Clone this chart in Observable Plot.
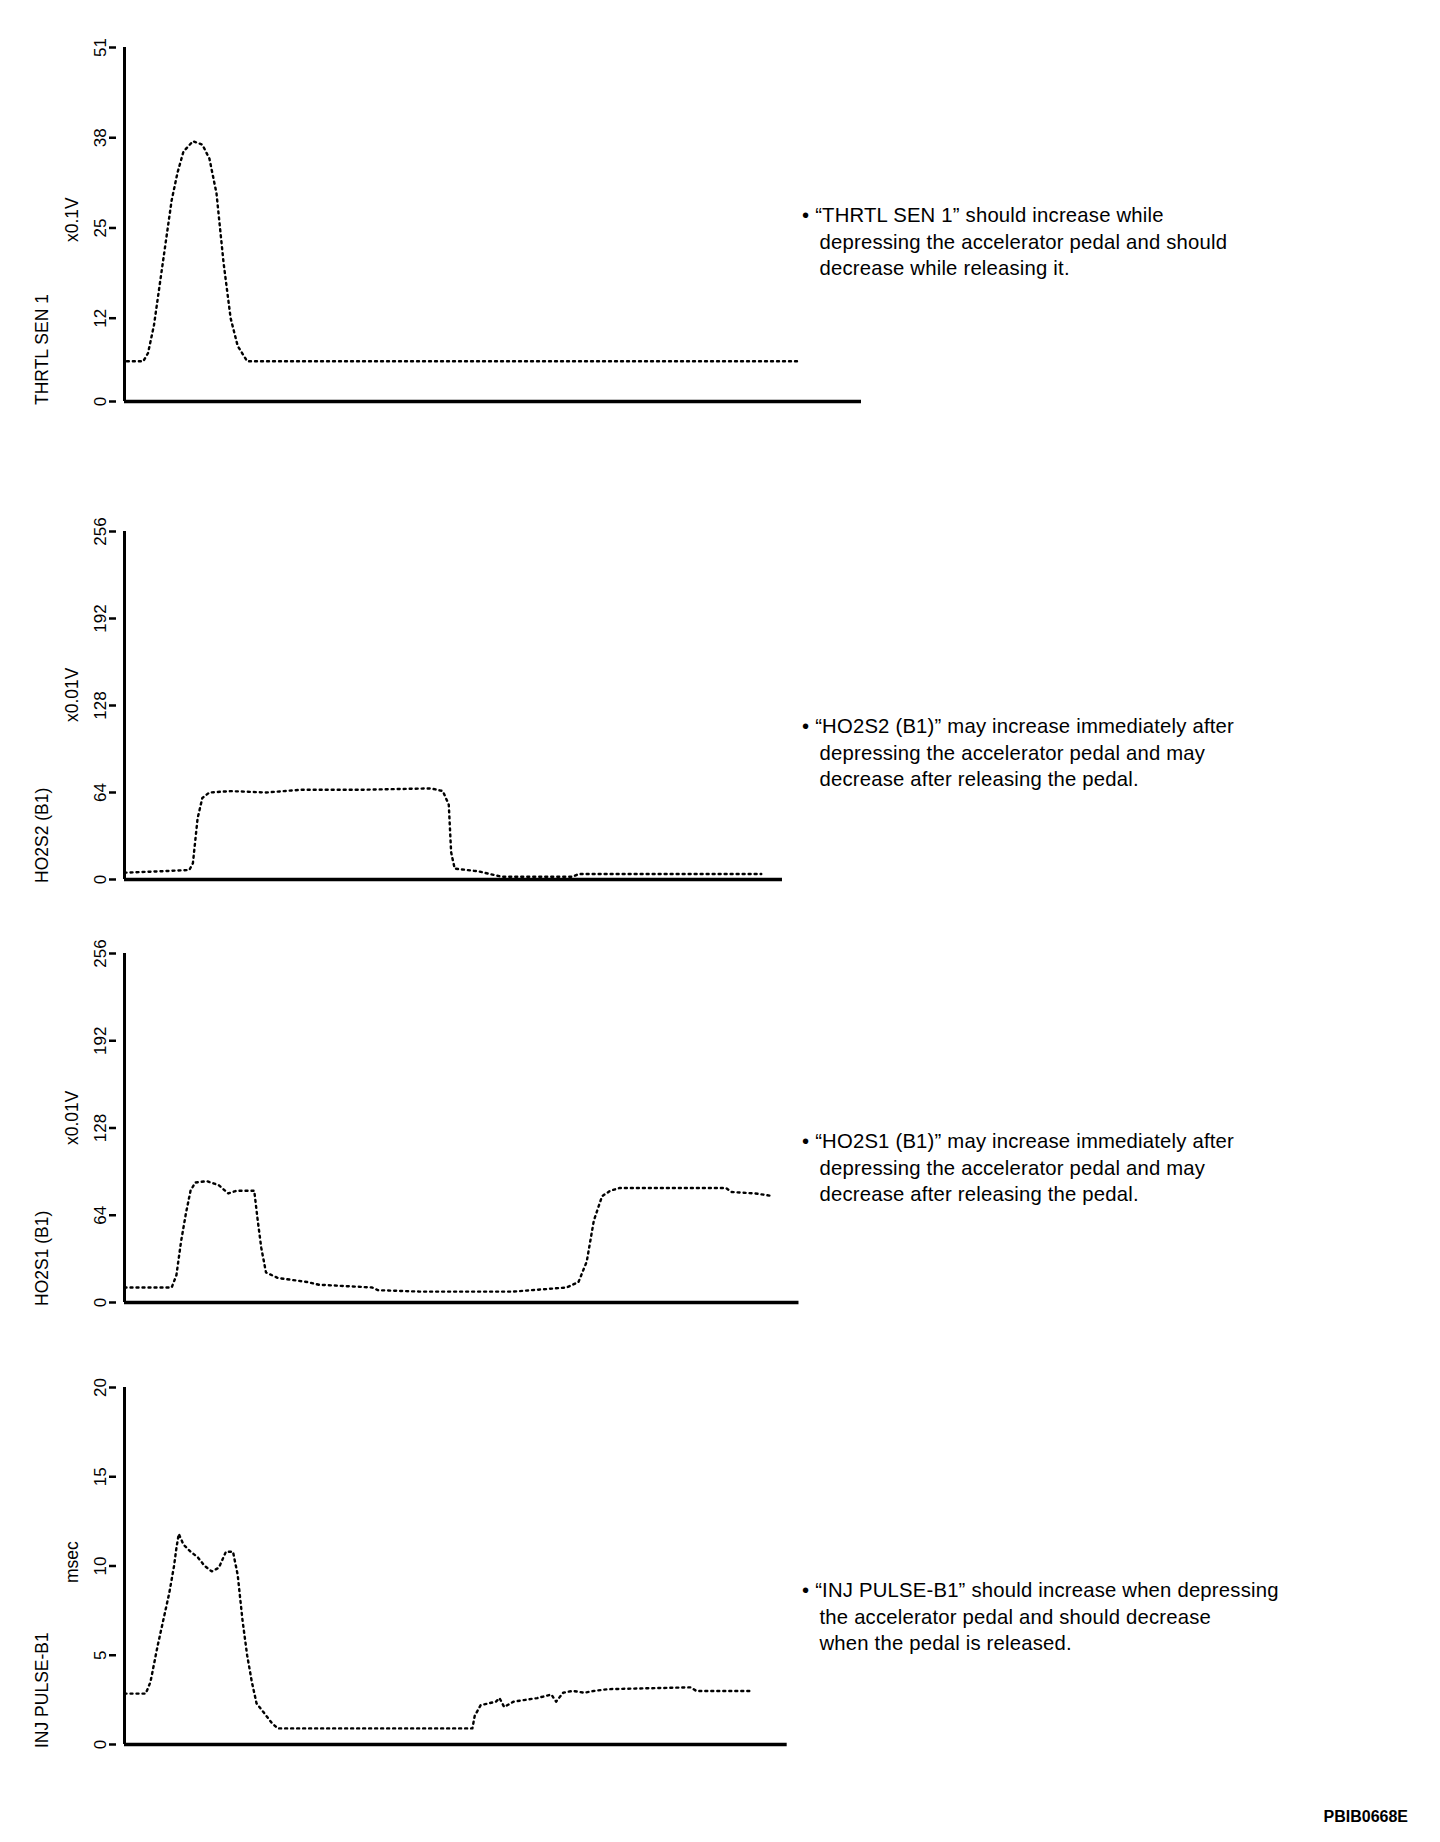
<!DOCTYPE html>
<html><head><meta charset="utf-8">
<script src="https://cdn.jsdelivr.net/npm/d3@7"></script>
<script src="https://cdn.jsdelivr.net/npm/@observablehq/plot@0.6"></script>
<style>
body{margin:0;background:#fff;font-family:"Liberation Sans",Arial,sans-serif;}
#page{position:relative;width:1440px;height:1842px;}
.p{position:absolute;left:0;}
.note{position:absolute;left:802px;font-size:20.3px;line-height:26.5px;color:#000;white-space:pre;letter-spacing:0.2px;}
.lab{position:absolute;font-size:17.5px;transform-origin:0 0;transform:rotate(-90deg);white-space:nowrap;}
</style></head><body><div id="page"></div>
<script>
const thrtlT=[2,16,20,25,30,35,40,45,50,58,66,72,78,84,90,96,104,572];
const thrtlV=[5.8,5.8,7,11,17,23,29,33,36,37.5,37,35,30,20,12,8,5.8,5.8];
const ho2s2T=[0,30,55,58,62,66,72,90,120,150,200,260,270,275,277,280,300,315,320,380,385,540];
const ho2s2V=[5,6,7,12,45,60,64,65,64,66,66,67,65,55,20,8,6,3,2,2,4,4];
const ho2s1T=[0,40,44,48,52,56,60,70,80,88,95,110,113,116,120,130,155,165,210,215,250,330,360,375,385,392,398,405,412,420,510,515,535,550];
const ho2s1V=[11,11,20,45,65,82,88,89,86,80,82,82,60,40,22,18,15,13,11,9,8,8,10,11,15,30,60,78,82,84,84,81,80,78];
const injT=[0,18,22,25,28,33,38,42,44,46,50,56,62,68,74,80,86,92,96,100,104,108,112,118,125,130,295,297,302,315,318,322,330,350,362,366,372,380,390,398,410,480,485,533];
const injV=[2.85,2.85,3.5,4.5,5.5,7,8.5,10,11,11.8,11.2,10.8,10.5,10,9.7,9.9,10.8,10.8,9.5,7,5,3.5,2.3,1.8,1.2,0.9,0.9,1.6,2.2,2.4,2.6,2.1,2.4,2.6,2.8,2.4,2.9,3,2.9,3,3.1,3.2,3.0,3.0];

const panels=[
 {T:thrtlT,V:thrtlV,ymax:51,ticks:[0,12,25,38,51],xmax:625,top:47,h:354,name:"THRTL SEN 1",unit:"x0.1V",note:"• “THRTL SEN 1” should increase while\n   depressing the accelerator pedal and should\n   decrease while releasing it.",noteY:202},
 {T:ho2s2T,V:ho2s2V,ymax:256,ticks:[0,64,128,192,256],xmax:558,top:531,h:348,name:"HO2S2 (B1)",unit:"x0.01V",note:"• “HO2S2 (B1)” may increase immediately after\n   depressing the accelerator pedal and may\n   decrease after releasing the pedal.",noteY:713},
 {T:ho2s1T,V:ho2s1V,ymax:256,ticks:[0,64,128,192,256],xmax:572,top:953,h:349,name:"HO2S1 (B1)",unit:"x0.01V",note:"• “HO2S1 (B1)” may increase immediately after\n   depressing the accelerator pedal and may\n   decrease after releasing the pedal.",noteY:1128},
 {T:injT,V:injV,ymax:20,ticks:[0,5,10,15,20],xmax:562,top:1387,h:357,name:"INJ PULSE-B1",unit:"msec",note:"• “INJ PULSE-B1” should increase when depressing\n   the accelerator pedal and should decrease\n   when the pedal is released.",noteY:1577}
];
const page=document.getElementById("page");
const mT=30,mB=14,mL=124;
for(const p of panels){
  const data=p.T.map((t,i)=>({t,v:p.V[i]}));
  const w=(p.xmax/625)*737;
  const chart=Plot.plot({
    width:mL+w+20,height:mT+p.h+mB,marginLeft:mL,marginRight:20,marginTop:mT,marginBottom:mB,
    style:{fontFamily:"Liberation Sans, Arial, sans-serif",fontSize:"17px",color:"#000"},
    x:{domain:[0,p.xmax],axis:null},
    y:{domain:[0,p.ymax]},
    marks:[
      Plot.axisY({ticks:p.ticks,tickSize:7,tickRotate:-90,label:null,tickPadding:4,strokeWidth:2.5,textAnchor:"middle",dx:-8}),
      Plot.ruleX([0],{strokeWidth:3}),
      Plot.ruleY([0],{strokeWidth:3.5}),
      Plot.line(data,{x:"t",y:"v",stroke:"#000",strokeWidth:2.4,strokeDasharray:"2,4"})
    ]
  });
  chart.classList.add("p");chart.style.top=(p.top-mT)+"px";
  page.appendChild(chart);
  const a=document.createElement("div");a.className="lab";a.textContent=p.name;
  a.style.left="32px";a.style.top=(p.top+p.h+4)+"px";page.appendChild(a);
  const u=document.createElement("div");u.className="lab";u.textContent=p.unit;
  u.style.left="62px";u.style.top=(p.top+p.h*0.55)+"px";page.appendChild(u);
  const n=document.createElement("div");n.className="note";n.textContent=p.note;n.style.top=p.noteY+"px";page.appendChild(n);
}
const c=document.createElement("div");c.textContent="PBIB0668E";
c.style.cssText="position:absolute;right:32px;top:1808px;font-size:16px;font-weight:bold;";
page.appendChild(c);
</script></body></html>
